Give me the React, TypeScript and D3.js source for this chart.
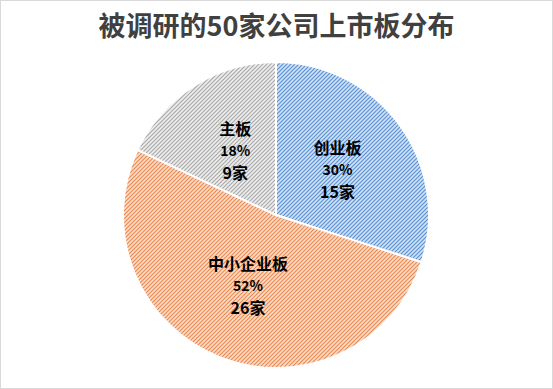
import React from 'react';
import * as d3 from 'd3';

const categories = ['创业板', '中小企业板', '主板'];
const counts = [15, 26, 9];
const percents = ['30%', '52%', '18%'];
const title = '被调研的50家公司上市板分布';

const fills = ['#cfe1f4', '#fbdcc8', '#ededed'];
const strokes = ['#5b8fd0', '#e88850', '#a8a8a8'];

const width = 553;
const height = 389;
const cx = 276;
const cy = 215;
const radius = 153;

interface Slice {
  name: string;
  count: number;
  pct: string;
}

const slices: Slice[] = categories.map((name, i) => ({ name, count: counts[i], pct: percents[i] }));

const App: React.FC = () => {
  const pie = d3.pie<Slice>().value(d => d.count).sort(null);
  const arcs = pie(slices);
  const arc = d3.arc<d3.PieArcDatum<Slice>>().innerRadius(0).outerRadius(radius);
  const labelArc = d3.arc<d3.PieArcDatum<Slice>>().innerRadius(152).outerRadius(0);
  const font = '"Noto Sans CJK SC", "Noto Sans", sans-serif';

  return (
    <div style={{ position: 'fixed', left: 0, top: 0 }}>
      <svg width={width} height={height} viewBox={`0 0 ${width} ${height}`}>
        <defs>
          {fills.map((f, i) => (
            <pattern key={i} id={`hatch${i}`} width={4} height={4} patternUnits="userSpaceOnUse">
              <rect width={4} height={4} fill={f} />
              <path d="M-1,1 l2,-2 M0,4 l4,-4 M3,5 l2,-2" stroke={strokes[i]} strokeWidth={1.1} />
            </pattern>
          ))}
        </defs>
        <rect x={0.5} y={0.5} width={width - 1} height={height - 1} fill="#fff" stroke="#d9d9d9" />
        <text x={width / 2} y={36} textAnchor="middle" fontSize={27} fontWeight="bold"
          fill="#404040" fontFamily={font}>{title}</text>
        <g transform={`translate(${cx},${cy})`}>
          {arcs.map((a, i) => (
            <path key={i} d={arc(a) || ''} fill={`url(#hatch${i})`} stroke="#fff" strokeWidth={2} />
          ))}
          {arcs.map((a, i) => {
            const [x, y] = labelArc.centroid(a);
            return (
              <g key={`l${i}`} transform={`translate(${x},${y})`} fontFamily={font} fill="#000"
                textAnchor="middle">
                <text y={-16} fontSize={16} fontWeight="bold">{a.data.name}</text>
                <text y={5} fontSize={14} fontWeight="bold">{a.data.pct}</text>
                <text y={28} fontSize={16} fontWeight="bold">{`${a.data.count}家`}</text>
              </g>
            );
          })}
        </g>
      </svg>
    </div>
  );
};

export default App;
